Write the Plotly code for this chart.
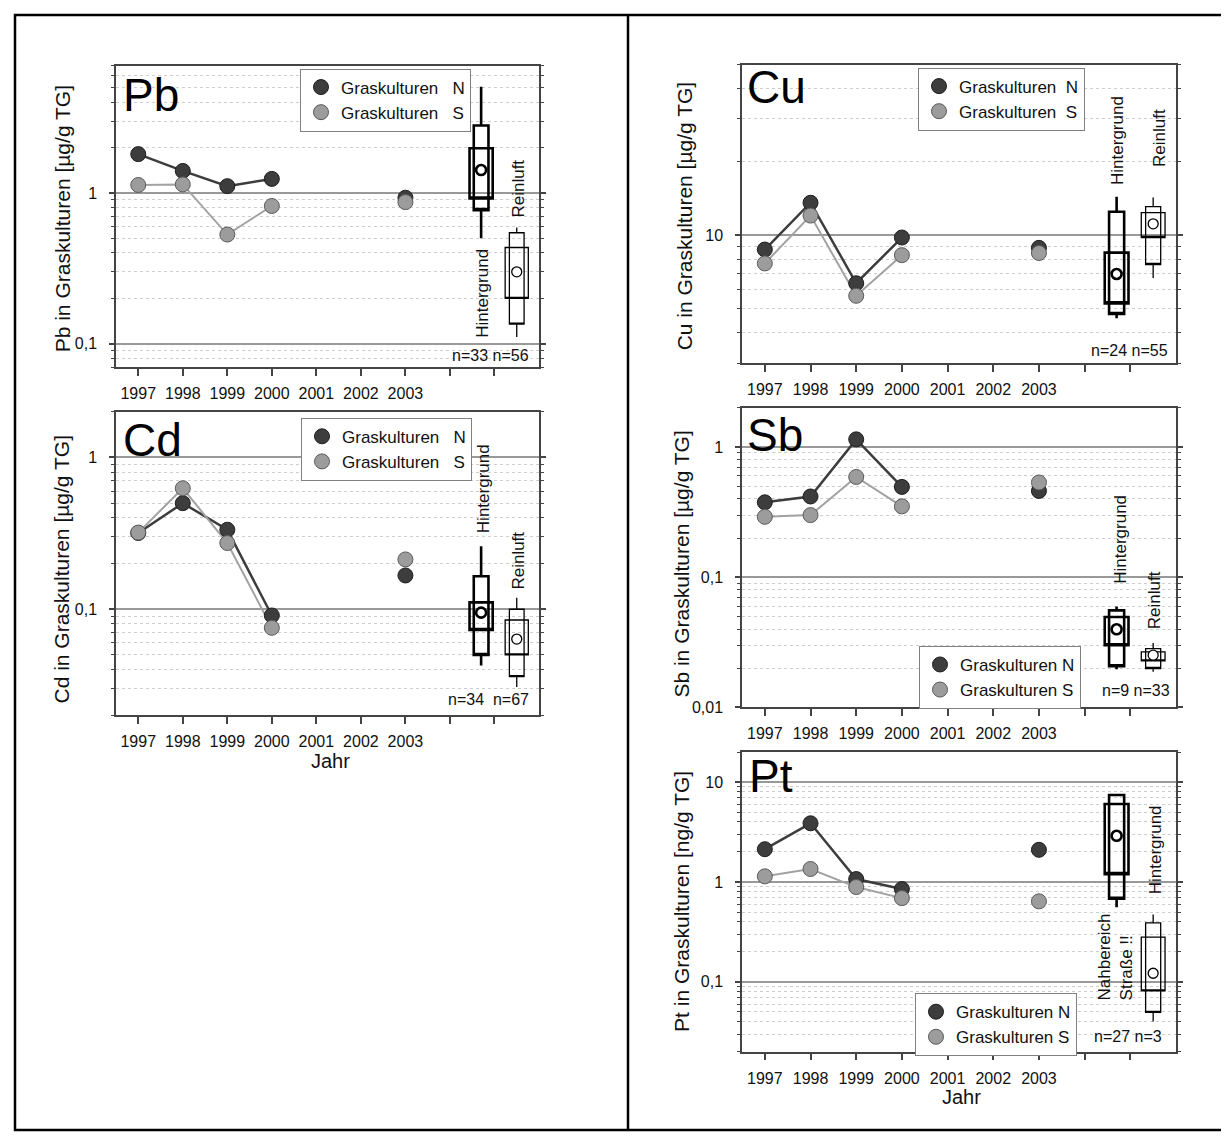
import math
import plotly.graph_objects as go

W, H = 1229, 1138
FONT = "Liberation Sans, Arial, sans-serif"
NARROW = "Liberation Sans Narrow, Liberation Sans, Arial, sans-serif"

# ---------------- data ----------------
years = [1997, 1998, 1999, 2000, 2001, 2002, 2003]
axis_years = [1997, 1998, 1999, 2000, 2001, 2002, 2003, 2004, 2005]
axis_year_labels = ["1997", "1998", "1999", "2000", "2001", "2002", "2003", "", ""]

pb_n = [1.81, 1.40, 1.11, 1.24, None, None, 0.93]
pb_s = [1.13, 1.14, 0.53, 0.82, None, None, 0.87]
cd_n = [0.318, 0.50, 0.334, 0.091, None, None, 0.167]
cd_s = [0.32, 0.627, 0.273, 0.0755, None, None, 0.213]
cu_n = [8.75, 13.6, 6.37, 9.8, None, None, 8.89]
cu_s = [7.68, 12.05, 5.66, 8.3, None, None, 8.47]
sb_n = [0.376, 0.417, 1.145, 0.494, None, None, 0.46]
sb_s = [0.291, 0.30, 0.589, 0.35, None, None, 0.534]
pt_n = [2.13, 3.87, 1.07, 0.85, None, None, 2.10]
pt_s = [1.14, 1.35, 0.89, 0.69, None, None, 0.64]

# reference distributions: whisker low, outer box low, inner box low, centre,
# inner box high, outer box high, whisker high
pb_hintergrund = [0.50, 0.77, 0.92, 1.42, 1.98, 2.80, 5.06]
pb_reinluft = [0.111, 0.135, 0.20, 0.30, 0.435, 0.545, 0.59]
cd_hintergrund = [0.0426, 0.050, 0.073, 0.095, 0.111, 0.165, 0.26]
cd_reinluft = [0.0307, 0.036, 0.050, 0.0636, 0.085, 0.10, 0.119]
cu_hintergrund = [4.58, 4.77, 5.27, 6.95, 8.5, 12.5, 14.4]
cu_reinluft = [6.7, 7.6, 9.8, 11.15, 12.4, 13.1, 14.3]
sb_hintergrund = [0.0196, 0.0207, 0.030, 0.0398, 0.0495, 0.0556, 0.0597]
sb_reinluft = [0.0188, 0.0199, 0.0228, 0.0252, 0.0267, 0.0283, 0.0313]
pt_hintergrund = [0.56, 0.68, 1.2, 2.9, 6.05, 7.43, 7.43]
pt_nahbereich = [0.040, 0.0494, 0.0813, 0.122, 0.281, 0.39, 0.473]

series_names = ["Graskulturen N", "Graskulturen S"]

# ---------------- layout helpers ----------------
def px(x):
    return x / W

def py(y):
    return 1 - y / H

BOX_POS = [2004.7, 2005.5]
XRANGE = [1996.5, 2006]

panels = [
    dict(sym="Pb", n=pb_n, s=pb_s, boxes=[pb_hintergrund, pb_reinluft],
         thick=[True, False], yr=(0.07, 7), ticks=[0.1, 1], ticktext=["0,1", "1"],
         frame=(108, 531, 58, 362), title="Pb in Graskulturen [µg/g TG]", title_pos=(54, 213),
         legend_pos=(292, 61), leg_names=["Graskulturen\u00a0\u00a0\u00a0N", "Graskulturen\u00a0\u00a0\u00a0S"],
         sym_pos=(113, 88),
         labels=[("Hintergrund", 475, 288, "left"), ("Reinluft", 511, 182, "left")],
         nlab=("n=33 n=56", 523, 350), jahr=None),
    dict(sym="Cd", n=cd_n, s=cd_s, boxes=[cd_hintergrund, cd_reinluft],
         thick=[True, False], yr=(0.02, 2), ticks=[0.1, 1], ticktext=["0,1", "1"],
         frame=(108, 531, 407, 713), title="Cd in Graskulturen [µg/g TG]", title_pos=(54, 566),
         legend_pos=(293, 413), leg_names=["Graskulturen\u00a0\u00a0\u00a0N", "Graskulturen\u00a0\u00a0\u00a0S"],
         sym_pos=(113, 435),
         labels=[("Hintergrund", 475, 485, "left"), ("Reinluft", 511, 557, "left")],
         nlab=("n=34\u00a0\u00a0n=67", 523, 697), jahr=(322, 759)),
    dict(sym="Cu", n=cu_n, s=cu_s, boxes=[cu_hintergrund, cu_reinluft],
         thick=[True, False], yr=(3, 50), ticks=[10], ticktext=["10"],
         frame=(734, 1168, 57, 358), title="Cu in Graskulturen [µg/g TG]", title_pos=(676, 210),
         legend_pos=(910, 60), leg_names=["Graskulturen\u00a0\u00a0N", "Graskulturen\u00a0\u00a0S"],
         sym_pos=(737, 80),
         labels=[("Hintergrund", 1110, 134, "left"), ("Reinluft", 1152, 131, "left")],
         nlab=("n=24 n=55", 1162, 345), jahr=None),
    dict(sym="Sb", n=sb_n, s=sb_s, boxes=[sb_hintergrund, sb_reinluft],
         thick=[True, False], yr=(0.01, 2), ticks=[0.01, 0.1, 1], ticktext=["0,01", "0,1", "1"],
         frame=(734, 1168, 403, 705), title="Sb in Graskulturen [µg/g TG]", title_pos=(674, 560),
         legend_pos=(911, 643), leg_names=series_names,
         sym_pos=(737, 430),
         labels=[("Hintergrund", 1113, 536, "left"), ("Reinluft", 1146, 597, "left")],
         nlab=("n=9 n=33", 1164, 688), jahr=None),
    dict(sym="Pt", n=pt_n, s=pt_s, boxes=[pt_hintergrund, pt_nahbereich],
         thick=[True, False], yr=(0.02, 20), ticks=[0.1, 1, 10], ticktext=["0,1", "1", "10"],
         frame=(734, 1168, 750, 1052), title="Pt in Graskulturen [ng/g TG]", title_pos=(674, 900),
         legend_pos=(907, 993), leg_names=series_names,
         sym_pos=(739, 774),
         labels=[("Hintergrund", 1147, 849, "left"), ("Nahbereich<br>Straße !!", 1107, 957, "left")],
         nlab=("n=27 n=3", 1156, 1037), jahr=(953, 1098)),
]

def minor_vals(lo, hi):
    vals = []
    for e in range(math.floor(math.log10(lo)) - 1, math.ceil(math.log10(hi)) + 1):
        for d in range(2, 10):
            v = d * 10 ** e
            if lo * 0.999 <= v <= hi * 1.001:
                vals.append(v)
    return vals

fig = go.Figure()
annotations = []
layout = {}

N_FILL, N_EDGE, N_LINE = "#3d3d3d", "#1e1e1e", "#3d3d3d"
S_FILL, S_EDGE, S_LINE = "#9c9c9c", "#5a5a5a", "#a2a2a2"

for i, p in enumerate(panels, start=1):
    xa = "x" if i == 1 else f"x{i}"
    ya = "y" if i == 1 else f"y{i}"
    lg = "legend" if i == 1 else f"legend{i}"
    x0, x1, y0, y1 = p["frame"]

    # lines
    fig.add_trace(go.Scatter(x=years, y=p["n"], mode="lines", connectgaps=False,
                             line=dict(color=N_LINE, width=2.5), showlegend=False,
                             hoverinfo="skip", xaxis=xa, yaxis=ya))
    fig.add_trace(go.Scatter(x=years, y=p["s"], mode="lines", connectgaps=False,
                             line=dict(color=S_LINE, width=2), showlegend=False,
                             hoverinfo="skip", xaxis=xa, yaxis=ya))

    # reference boxes
    for pos, st, thick in zip(BOX_POS, p["boxes"], p["thick"]):
        lw = 2.6 if thick else 1.3
        wlo, olo, ilo, ctr, ihi, ohi, whi = st
        fig.add_trace(go.Box(x=[pos], q1=[olo], median=[olo], q3=[ohi],
                             lowerfence=[wlo], upperfence=[whi], width=0.33,
                             whiskerwidth=0, boxpoints=False,
                             line=dict(color="#000000", width=lw),
                             fillcolor="rgba(0,0,0,0)", showlegend=False,
                             hoverinfo="skip", xaxis=xa, yaxis=ya))
        fig.add_trace(go.Box(x=[pos], q1=[ilo], median=[ilo], q3=[ihi],
                             lowerfence=[ilo], upperfence=[ihi], width=0.52,
                             whiskerwidth=0, boxpoints=False,
                             line=dict(color="#000000", width=lw),
                             fillcolor="rgba(0,0,0,0)", showlegend=False,
                             hoverinfo="skip", xaxis=xa, yaxis=ya))
        fig.add_trace(go.Scatter(x=[pos], y=[ctr], mode="markers",
                                 marker=dict(symbol="circle", size=10, color="white",
                                             line=dict(color="#000000", width=lw)),
                                 showlegend=False, hoverinfo="skip", xaxis=xa, yaxis=ya))

    # markers (legend)
    fig.add_trace(go.Scatter(x=years, y=p["n"], mode="markers", name=p["leg_names"][0],
                             marker=dict(size=15, color=N_FILL, line=dict(color=N_EDGE, width=1)),
                             legend=lg, hoverinfo="skip", xaxis=xa, yaxis=ya))
    fig.add_trace(go.Scatter(x=years, y=p["s"], mode="markers", name=p["leg_names"][1],
                             marker=dict(size=15, color=S_FILL, line=dict(color=S_EDGE, width=1)),
                             legend=lg, hoverinfo="skip", xaxis=xa, yaxis=ya))

    lo, hi = p["yr"]
    layout["xaxis" if i == 1 else f"xaxis{i}"] = dict(
        domain=[px(x0), px(x1)], range=XRANGE, anchor=ya,
        tickmode="array", tickvals=axis_years, ticktext=axis_year_labels,
        ticks="outside", ticklen=7, tickwidth=1.5, tickcolor="#444",
        showline=True, linecolor="#444", linewidth=1.5, mirror=True,
        showgrid=False, zeroline=False, ticklabelstandoff=4,
        tickfont=dict(family=FONT, size=16, color="#111"))
    layout["yaxis" if i == 1 else f"yaxis{i}"] = dict(
        type="log", domain=[py(y1), py(y0)], range=[math.log10(lo), math.log10(hi)],
        anchor=xa, tickmode="array", tickvals=p["ticks"], ticktext=p["ticktext"],
        ticks="outside", ticklen=5, tickwidth=1.5, tickcolor="#444",
        showline=True, linecolor="#444", linewidth=1.5, mirror="ticks",
        showgrid=True, gridcolor="#999999", gridwidth=1.5, zeroline=False,
        ticklabelstandoff=9,
        tickfont=dict(family=FONT, size=16, color="#111"),
        minor=dict(tickmode="array", tickvals=minor_vals(lo, hi), ticks="outside",
                   ticklen=3, tickwidth=1.2, tickcolor="#444", showgrid=True,
                   gridcolor="#cdcdcd", griddash="dot", gridwidth=1))
    lx, ly = p["legend_pos"]
    layout[lg] = dict(x=px(lx), y=py(ly), xanchor="left", yanchor="top",
                      bgcolor="white", bordercolor="#808080", borderwidth=1,
                      font=dict(family=FONT, size=17, color="#111"),
                      itemsizing="trace", traceorder="normal", tracegroupgap=0)

    # text
    sx, sy = p["sym_pos"]
    annotations.append(dict(text=p["sym"], x=px(sx), y=py(sy), xref="paper", yref="paper",
                            xanchor="left", yanchor="middle", showarrow=False,
                            font=dict(family=FONT, size=46, color="#000")))
    tx, ty = p["title_pos"]
    annotations.append(dict(text=p["title"], x=px(tx), y=py(ty), xref="paper", yref="paper",
                            xanchor="center", yanchor="middle", textangle=-90, showarrow=False,
                            font=dict(family=FONT, size=21, color="#111")))
    for txt, bx, by, al in p["labels"]:
        annotations.append(dict(text=txt, x=px(bx), y=py(by), xref="paper", yref="paper",
                                xanchor="center", yanchor="middle", textangle=-90, align=al,
                                showarrow=False, font=dict(family=FONT, size=17, color="#111")))
    nt, nx, ny = p["nlab"]
    annotations.append(dict(text=nt, x=px(nx), y=py(ny), xref="paper", yref="paper",
                            xanchor="right", yanchor="middle", showarrow=False,
                            font=dict(family=NARROW, size=16, color="#111")))
    if p["jahr"]:
        jx, jy = p["jahr"]
        annotations.append(dict(text="Jahr", x=px(jx), y=py(jy), xref="paper", yref="paper",
                                xanchor="center", yanchor="middle", showarrow=False,
                                font=dict(family=FONT, size=20, color="#111")))

shapes = [
    dict(type="rect", xref="paper", yref="paper", x0=px(7), x1=px(1221), y0=py(1131), y1=py(7),
         line=dict(color="#000", width=2.5)),
    dict(type="line", xref="paper", yref="paper", x0=px(620), x1=px(620), y0=py(1131), y1=py(7),
         line=dict(color="#000", width=2.5)),
]

fig.update_layout(width=W, height=H, margin=dict(l=0, r=0, t=0, b=0),
                  paper_bgcolor="white", plot_bgcolor="white", boxmode="overlay",
                  font=dict(family=FONT, color="#111"),
                  annotations=annotations, shapes=shapes, **layout)

fig.write_html("out.html")
